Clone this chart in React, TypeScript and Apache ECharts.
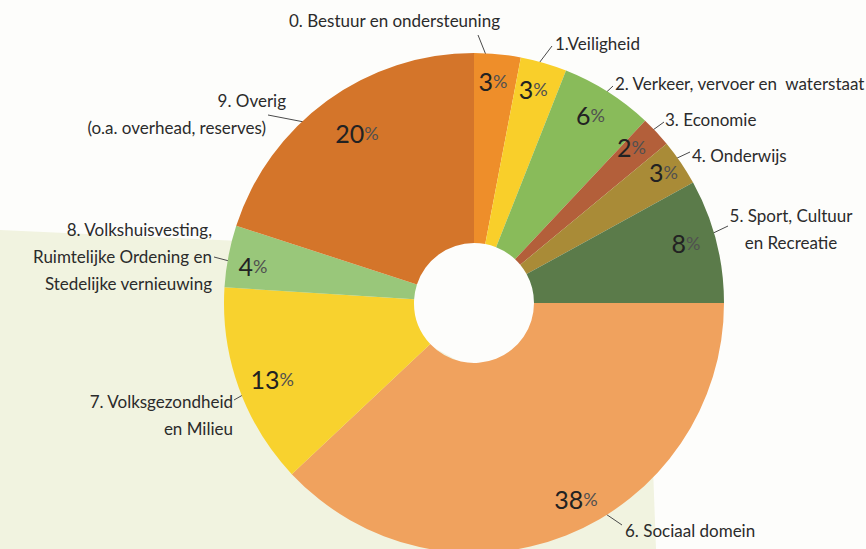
import React, { useEffect, useRef } from 'react';
import * as echarts from 'echarts';

// ---- data ----
const categories = [
  '0. Bestuur en ondersteuning',
  '1.Veiligheid',
  '2. Verkeer, vervoer en  waterstaat',
  '3. Economie',
  '4. Onderwijs',
  '5. Sport, Cultuur\nen Recreatie',
  '6. Sociaal domein',
  '7. Volksgezondheid\nen Milieu',
  '8. Volkshuisvesting,\nRuimtelijke Ordening en\nStedelijke vernieuwing',
  '9. Overig\n(o.a. overhead, reserves)',
];
const shares = [3, 3, 6, 2, 3, 8, 38, 13, 4, 20];
const sliceColors = [
  '#ee8e2a', '#f9cf2a', '#89bb5a', '#b35f3a', '#a98b37',
  '#5b7b4a', '#f0a25e', '#f8d22e', '#99c77a', '#d4752a',
];

// ---- annotation layout (label anchors, leader lines, percent nudges) ----
const labelSpots: { x: number; y: number; align: string; from: number[]; to: number[] }[] = [
  { x: 500, y: 20, align: 'right', from: [490, 65], to: [478, 35] },
  { x: 555, y: 43, align: 'left', from: [533, 71], to: [552, 46] },
  { x: 615, y: 83, align: 'left', from: [597, 101], to: [613, 86] },
  { x: 665, y: 119, align: 'left', from: [646, 135], to: [664, 122] },
  { x: 692, y: 155, align: 'left', from: [673, 160], to: [690, 152] },
  { x: 791, y: 229, align: 'center', from: [707, 236], to: [728, 226] },
  { x: 625, y: 530, align: 'left', from: [597, 508], to: [622, 525] },
  { x: 233, y: 415, align: 'right', from: [255, 388], to: [234, 400] },
  { x: 212, y: 256, align: 'right', from: [233, 262], to: [214, 257] },
  { x: 286, y: 114, align: 'right', from: [330, 127], to: [268, 115] },
];
const pctNudge = [
  [-2, 0], [-3, 0], [-3, 0], [-5, -3], [5, -6], [-4, -5], [20, -11], [8, 0], [-2, 5], [14, 10],
];

const FONT = "Lato, 'Open Sans', sans-serif";
const TXT = '#2b2b2b';
const CENTER = [474, 303];

export default function App() {
  const ref = useRef<HTMLDivElement>(null);
  useEffect(() => {
    document.body.style.margin = '0';
    if (!ref.current) return;
    const chart = echarts.init(ref.current, undefined, { renderer: 'svg' });
    const data = categories.map((name, i) => ({
      name,
      value: shares[i],
      itemStyle: { color: sliceColors[i] },
    }));
    const ghost = categories.map((name, i) => ({
      name,
      value: shares[i],
      itemStyle: { color: 'rgba(0,0,0,0)' },
    }));
    chart.setOption({
      animation: false,
      backgroundColor: '#fdfdfb',
      graphic: {
        elements: [
          {
            type: 'polygon',
            z: -10,
            silent: true,
            shape: {
              points: [
                [0, 230], [240, 241], [653, 468], [656, 549], [0, 549],
              ],
            },
            style: { fill: '#f1f3e0' },
          },
        ],
      },
      series: [
        {
          type: 'pie',
          center: CENTER,
          radius: [60, 250],
          startAngle: 90,
          clockwise: true,
          silent: true,
          avoidLabelOverlap: false,
          label: { show: false },
          labelLine: { show: false },
          itemStyle: { borderWidth: 0 },
          data,
        },
        {
          type: 'pie',
          center: CENTER,
          radius: [190, 250],
          startAngle: 90,
          clockwise: true,
          silent: true,
          avoidLabelOverlap: false,
          label: {
            show: true,
            position: 'inside',
            formatter: (p: any) => `{n|${p.value}}{p|%}`,
            rich: {
              n: { fontFamily: FONT, fontSize: 25, color: '#222222' },
              p: { fontFamily: FONT, fontSize: 18, color: '#505050' },
            },
          },
          labelLayout: (params: any) => ({
            dx: pctNudge[params.dataIndex][0],
            dy: pctNudge[params.dataIndex][1],
          }),
          labelLine: { show: false },
          data: ghost,
        },
        {
          type: 'pie',
          center: CENTER,
          radius: [60, 235],
          startAngle: 90,
          clockwise: true,
          silent: true,
          avoidLabelOverlap: false,
          label: {
            show: true,
            position: 'outside',
            width: 320,
            fontFamily: FONT,
            fontSize: 17,
            lineHeight: 27,
            color: TXT,
            formatter: (p: any) => {
              if (p.dataIndex === 9) {
                const parts = String(p.name).split('\n');
                return `{a|${parts[0]}}\n{b|${parts[1]}}`;
              }
              return p.name;
            },
            rich: {
              a: { fontFamily: FONT, fontSize: 17, lineHeight: 27, color: TXT, align: 'right' },
              b: { fontFamily: FONT, fontSize: 17, lineHeight: 27, color: TXT, align: 'right', padding: [0, 20, 0, 0] },
            },
          },
          labelLine: {
            show: true,
            length: 4,
            length2: 4,
            lineStyle: { color: '#4a4a4a', width: 1 },
          },
          labelLayout: (params: any) => {
            const s = labelSpots[params.dataIndex];
            return {
              x: s.x,
              y: s.y,
              align: s.align,
              verticalAlign: 'middle',
              labelLinePoints: [s.from, s.to],
            };
          },
          data: ghost,
        },
      ],
    });
    return () => chart.dispose();
  }, []);
  return <div ref={ref} style={{ width: 866, height: 549 }} />;
}
